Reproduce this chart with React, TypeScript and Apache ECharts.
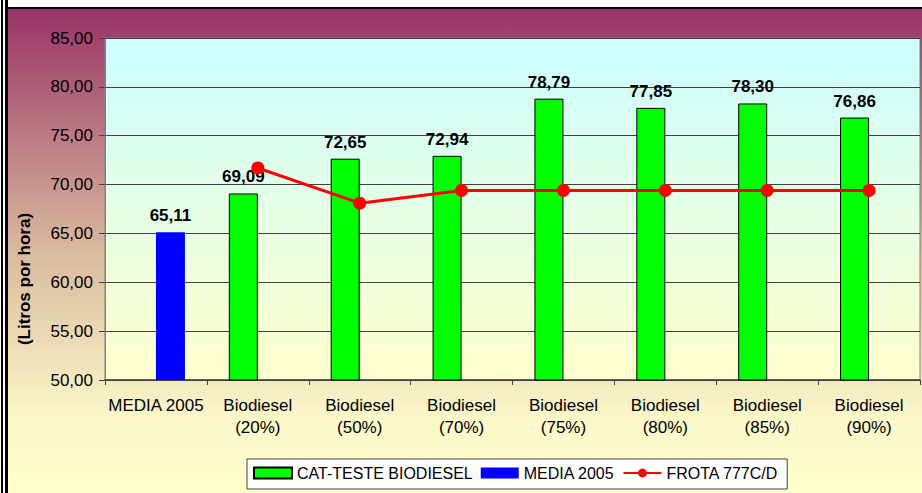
import React, { useEffect, useRef } from "react";
import * as echarts from "echarts";

const categories = [
  "MEDIA 2005",
  "Biodiesel\n(20%)",
  "Biodiesel\n(50%)",
  "Biodiesel\n(70%)",
  "Biodiesel\n(75%)",
  "Biodiesel\n(80%)",
  "Biodiesel\n(85%)",
  "Biodiesel\n(90%)",
];
const testeValues = [null, 69.09, 72.65, 72.94, 78.79, 77.85, 78.3, 76.86];
const mediaValues = [65.11, null, null, null, null, null, null, null];
const frotaValues = [null, 71.7, 68.1, 69.4, 69.4, 69.4, 69.4, 69.4];
const yMin = 50;
const yMax = 85;
const yStep = 5;
const yTitle = "(Litros por hora)";

const FONT = 'Arial, "Liberation Sans", sans-serif';
const fmt = (v: number) => v.toFixed(2).replace(".", ",");

export default function App() {
  const ref = useRef<HTMLDivElement>(null);
  useEffect(() => {
    if (!ref.current) return;
    const chart = echarts.init(ref.current, undefined, { renderer: "svg" });
    const barLabel = {
      show: true,
      position: "top" as const,
      distance: 8,
      fontFamily: FONT,
      fontSize: 17,
      fontWeight: "bold" as const,
      color: "#000",
      formatter: (p: any) => fmt(p.value),
    };
    chart.setOption({
      animation: false,
      backgroundColor: "transparent",
      textStyle: { fontFamily: FONT },
      grid: {
        left: 97,
        top: 29,
        right: 2,
        bottom: 113,
        show: true,
        borderColor: "#808080",
        borderWidth: 1,
        backgroundColor: new echarts.graphic.LinearGradient(0, 0, 0, 1, [
          { offset: 0, color: "#CCFFFF" },
          { offset: 1, color: "#FFFFCC" },
        ]),
      },
      legend: {
        left: 239,
        top: 450,
        itemWidth: 38,
        itemHeight: 11,
        itemGap: 8,
        padding: [6, 9, 8, 6],
        backgroundColor: "#FFFFFF",
        borderColor: "#404040",
        borderWidth: 1,
        borderRadius: 0,
        textStyle: { fontFamily: FONT, fontSize: 16, color: "#000" },
        data: [
          { name: "CAT-TESTE BIODIESEL", icon: "rect" },
          { name: "MEDIA 2005", icon: "rect" },
          { name: "FROTA 777C/D" },
        ],
      },
      xAxis: {
        type: "category",
        data: categories,
        axisLine: { lineStyle: { color: "#404040", width: 1.5 } },
        axisTick: { show: true, length: 5, lineStyle: { color: "#404040" } },
        axisLabel: {
          interval: 0,
          fontFamily: FONT,
          fontSize: 17,
          color: "#000",
          margin: 14,
          lineHeight: 22,
        },
      },
      yAxis: {
        type: "value",
        min: yMin,
        max: yMax,
        interval: yStep,
        axisLine: { show: true, lineStyle: { color: "#808080" } },
        axisTick: { show: true, length: 6, lineStyle: { color: "#404040" } },
        axisLabel: {
          fontFamily: FONT,
          fontSize: 17,
          color: "#000",
          margin: 12,
          formatter: (v: number) => fmt(v),
        },
        splitLine: { lineStyle: { color: "#404040", width: 1 } },
      },
      graphic: [
        {
          type: "text",
          x: 16,
          y: 270,
          rotation: Math.PI / 2,
          style: {
            text: yTitle,
            font: `bold 17px ${FONT}`,
            fill: "#000",
            align: "center",
            verticalAlign: "middle",
          },
        },
      ],
      series: [
        {
          name: "CAT-TESTE BIODIESEL",
          type: "bar",
          data: testeValues,
          barWidth: 29,
          barGap: "0%",
          itemStyle: { color: "#00FF00", borderColor: "#000", borderWidth: 1 },
          label: barLabel,
        },
        {
          name: "MEDIA 2005",
          type: "bar",
          data: mediaValues,
          barWidth: 29,
          barGap: "0%",
          itemStyle: { color: "#0000FF" },
          label: barLabel,
        },
        {
          name: "FROTA 777C/D",
          type: "line",
          data: frotaValues,
          z: 5,
          symbol: "circle",
          symbolSize: 13,
          lineStyle: { color: "#FF0000", width: 3 },
          itemStyle: { color: "#FF0000" },
        },
      ],
    });
    return () => chart.dispose();
  }, []);

  return (
    <div
      style={{
        position: "absolute",
        left: 0,
        top: 0,
        width: 922,
        height: 493,
        background: "#FFFFFF",
        overflow: "hidden",
      }}
    >
      <div style={{ position: "absolute", left: 1, top: 0, width: 2, height: 493, background: "#000" }} />
      <div style={{ position: "absolute", left: 5, top: 0, width: 3, height: 493, background: "#000" }} />
      <div style={{ position: "absolute", left: 5, top: 7, width: 917, height: 2, background: "#000" }} />
      <div
        style={{
          position: "absolute",
          left: 8,
          top: 9,
          width: 914,
          height: 484,
          background: "linear-gradient(to bottom, #993366 0%, #D9BA9E 50%, #FCF8CA 85%, #FFFFCC 100%)",
        }}
      >
        <div ref={ref} style={{ width: 914, height: 484 }} />
      </div>
    </div>
  );
}
